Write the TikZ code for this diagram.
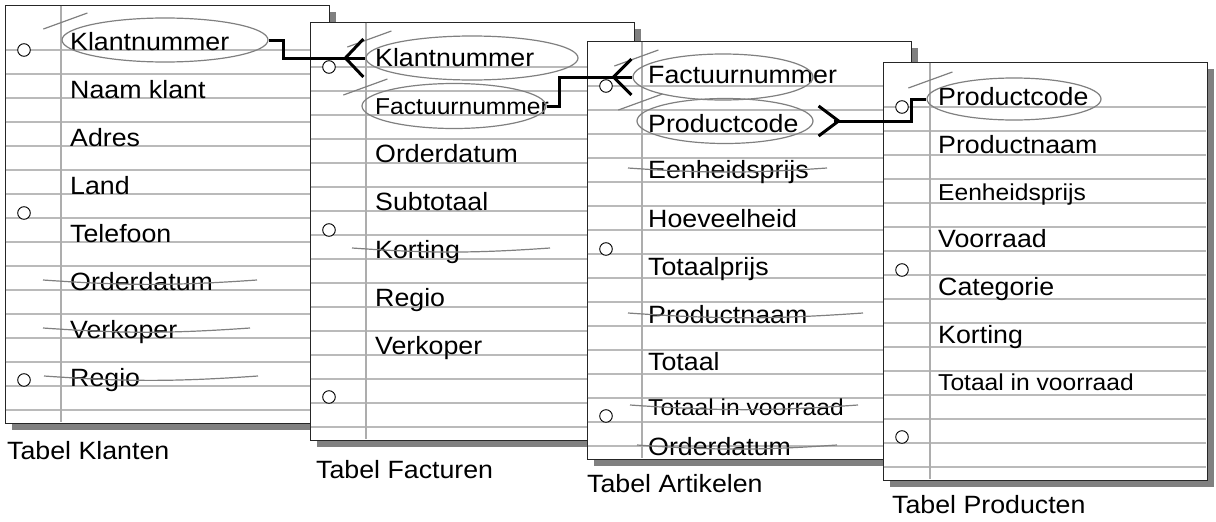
\documentclass[tikz,border=0pt]{standalone}
\usepackage{fontspec}
\setmainfont{Liberation Sans}[FakeStretch=1.07]
\usetikzlibrary{shapes.geometric,shadows}

\tikzset{
  page/.style={draw=black!85,line width=1.1pt,fill=white,anchor=north west,inner sep=0pt,
    minimum width=324pt,minimum height=418pt,
    drop shadow={shadow xshift=6pt,shadow yshift=-6pt,fill=black!50,opacity=1}},
  rule/.style={black!27,line width=1.4pt},
  margin/.style={black!32,line width=1.1pt},
  hole/.style={draw=black,fill=white,line width=0.9pt},
  entry/.style={anchor=base west,inner sep=0pt,font=\fontsize{25}{29}\selectfont},
  small/.style={font=\fontsize{23}{27}\selectfont},
  title/.style={entry},
  ring/.style={ellipse,draw=black!50,line width=1.2pt,inner sep=0pt},
  strike/.style={black!50,line width=1.2pt},
  link/.style={line width=3pt}
}

% one ruled sheet: name, x, y, margin
\newcommand{\notebook}[4]{%
  \node[page] (#1) at (#2,#3) {};
  \begin{scope}[shift={(#2,#3)}]
    \foreach \k in {0,...,15}
      \draw[rule] (0.6,45+24*\k) -- (323.4,45+24*\k);
    \draw[margin] (#4,0.6) -- (#4,417.4);
    \foreach \h in {45,208,375}
      \draw[hole] (19,\h) circle (6.3pt);
  \end{scope}}
\newcommand{\strike}[3]{%
  \draw[strike] ([shift={(#2,-10)}]#1.base west) to[bend right=4] ([shift={(#3,-10)}]#1.base west);}

\begin{document}
\begin{tikzpicture}[x=1pt,y=-1pt]
  \path[use as bounding box,fill=white] (0,0) rectangle (1216,522);

  % Tabel Klanten
  \notebook{kl}{5}{5}{56}
  \begin{scope}[shift={(5,5)}]
    \foreach \t [count=\i] in {Klantnummer,Naam klant,Adres,Land,Telefoon,Orderdatum,Verkoper,Regio}
      \node[entry] (kl\i) at (65,{48*\i-3}) {\t};
    \node[ring,minimum width=206pt,minimum height=44pt] (klring) at (160,35) {};
  \end{scope}
  \strike{kl6}{-27}{187}
  \strike{kl7}{-27}{180}
  \strike{kl8}{-26}{188}
  \node[title] (kltitle) at ([shift={(2,35)}]kl.south west) {Tabel Klanten};

  % Tabel Facturen
  \notebook{fa}{310}{22}{56}
  \begin{scope}[shift={(310,22)}]
    \foreach \t/\s [count=\i] in {Klantnummer/,Factuurnummer/small,Orderdatum/,Subtotaal/,Korting/,Regio/,Verkoper/}
      \node[entry,\s] (fa\i) at (65,{48*\i-4}) {\t};
    \node[ring,minimum width=212pt,minimum height=44pt] (fkring) at (162,36) {};
    \node[ring,minimum width=184pt,minimum height=45pt] (ffring) at (144,84) {};
  \end{scope}
  \strike{fa5}{-23}{175}
  \node[title] (fatitle) at ([shift={(6,37)}]fa.south west) {Tabel Facturen};

  % Tabel Artikelen
  \notebook{ar}{587}{41}{55}
  \begin{scope}[shift={(587,41)}]
    \foreach \t/\y/\s [count=\i] in {Factuurnummer/42/,Productcode/91/,Eenheidsprijs/137/,Hoeveelheid/186/,
        Totaalprijs/234/,Productnaam/282/,Totaal/329/,Totaal in voorraad/374/small,Orderdatum/414/}
      \node[entry,\s] (ar\i) at (61,\y) {\t};
    \node[ring,minimum width=180pt,minimum height=46pt] (afring) at (136,36) {};
    \node[ring,minimum width=176pt,minimum height=45pt] (apring) at (138,80) {};
  \end{scope}
  \strike{ar3}{-20}{179}
  \strike{ar6}{-20}{215}
  \strike{ar8}{-18}{210}
  \strike{ar9}{-11}{189}
  \node[title] (artitle) at ([shift={(0,32)}]ar.south west) {Tabel Artikelen};

  % Tabel Producten
  \notebook{pr}{883}{62}{47}
  \begin{scope}[shift={(883,62)}]
    \foreach \t/\y/\s [count=\i] in {Productcode/43/,Productnaam/91/,Eenheidsprijs/138/small,Voorraad/185/,
        Categorie/233/,Korting/281/,Totaal in voorraad/328/small}
      \node[entry,\s] (pr\i) at (55,\y) {\t};
    \node[ring,minimum width=174pt,minimum height=42pt] (ppring) at (131,37) {};
  \end{scope}
  \node[title] (prtitle) at ([shift={(9,32)}]pr.south west) {Tabel Producten};

  % pen flick where each ring starts
  \foreach \r in {klring,fkring,ffring,afring,apring,ppring}
    \draw[strike] ([shift={(-18,-11)}]\r.west) -- ([shift={(26,-27)}]\r.west);

  % relations
  \draw[link] (klring.east) -- ++(15,0) |- (fkring.west);
  \draw[link] ([shift={(-2,-19)}]fkring.west) -- ([xshift=-20pt]fkring.west) -- ([shift={(-2,19)}]fkring.west);
  \draw[link] (ffring.east) -- ++(13,0) |- (afring.west);
  \draw[link] ([shift={(-1,-18)}]afring.west) -- ([xshift=-19pt]afring.west) -- ([shift={(-1,18)}]afring.west);
  \draw[link] ([xshift=20pt]apring.east) -| ([xshift=-15pt]ppring.west) -- (ppring.west);
  \draw[link] ([shift={(5,-15)}]apring.east) -- ([xshift=25pt]apring.east) -- ([shift={(5,15)}]apring.east);
\end{tikzpicture}
\end{document}
